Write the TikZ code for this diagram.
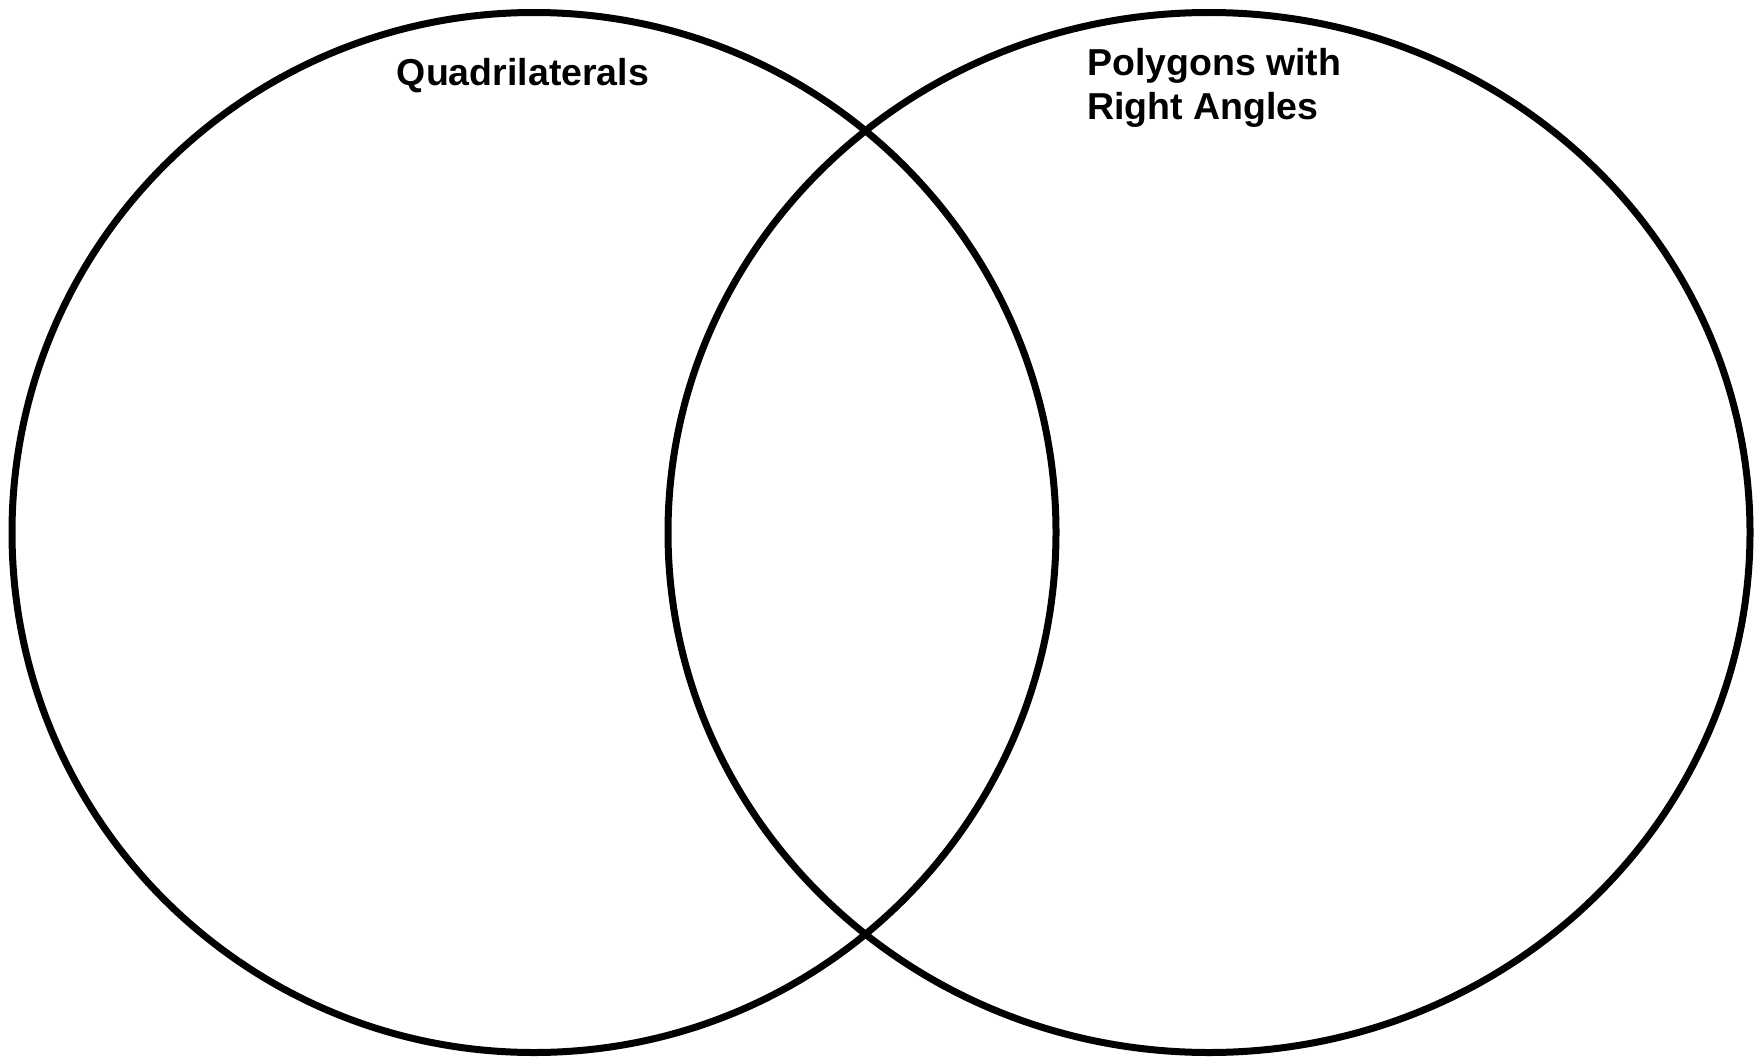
\documentclass[tikz,border=0pt]{standalone}
\usepackage{fontspec}
\setmainfont{Liberation Sans}
\begin{document}
\begin{tikzpicture}[x=1pt,y=-1pt,
  setring/.style={draw=black,line width=7pt},
  setlabel/.style={font=\bfseries\fontsize{37.5pt}{44pt}\selectfont,inner sep=0pt,align=left}]
\useasboundingbox[fill=white] (0,0) rectangle (1754,1057);
% the two overlapping sets
\draw[setring] (534,532.5) ellipse [x radius=522,y radius=520];
\draw[setring] (1209,532.5) ellipse [x radius=541,y radius=520];
% set names (base anchor sits on the last line)
\node[setlabel,anchor=base] (quad) at (523,85) {Quadrilaterals};
\node[setlabel,anchor=base west] (right) at (1087,119) {Polygons with\\Right Angles};
\end{tikzpicture}
\end{document}
